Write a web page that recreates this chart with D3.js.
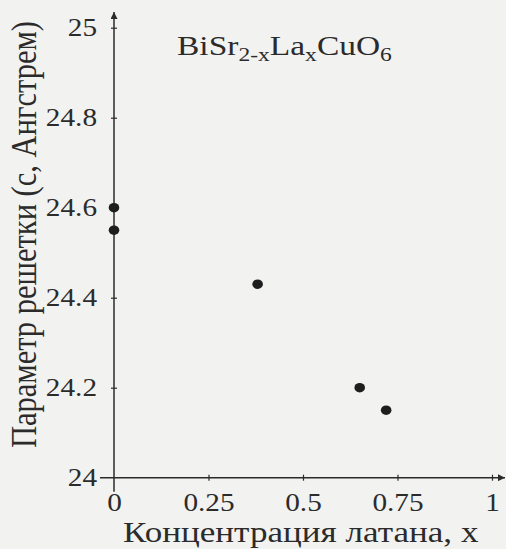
<!DOCTYPE html>
<html>
<head>
<meta charset="utf-8">
<script src="https://cdn.jsdelivr.net/npm/d3@7"></script>
<style>
  body { margin: 0; background: #f2f2f0; }
  svg { display: block; }
  svg text { font-family: "Liberation Serif", serif !important; fill: #2b2b2b; }
</style>
</head>
<body>
<svg id="chart" width="506" height="549"></svg>
<script>
// данные: концентрация лантана x и параметр решетки c
const conc = [0, 0, 0.38, 0.65, 0.72];
const latticeC = [24.6, 24.55, 24.43, 24.2, 24.15];
const xTicks = [0, 0.25, 0.5, 0.75, 1];
const yTicks = [24, 24.2, 24.4, 24.6, 24.8, 25];

const svg = d3.select("#chart");
const ink = "#2b2b2b";
const sx = 1.17; // скан растянут по горизонтали

const x = d3.scaleLinear().domain([0, 1]).range([114, 492]);
const y = d3.scaleLinear().domain([24, 25]).range([477.7, 27.7]);

// оси со стрелками
svg.append("defs").append("marker")
    .attr("id", "arrow")
    .attr("viewBox", "0 0 10 10")
    .attr("refX", 10).attr("refY", 5)
    .attr("markerWidth", 11).attr("markerHeight", 7)
    .attr("markerUnits", "userSpaceOnUse")
    .attr("orient", "auto")
  .append("path")
    .attr("d", "M0,0 L10,5 L0,10 Z")
    .attr("fill", ink);

svg.append("line")
    .attr("x1", x(0) - 14).attr("x2", 505)
    .attr("y1", y(24)).attr("y2", y(24))
    .attr("stroke", ink).attr("stroke-width", 1.5)
    .attr("marker-end", "url(#arrow)");

svg.append("line")
    .attr("x1", x(0)).attr("x2", x(0))
    .attr("y1", y(24) + 14).attr("y2", 12)
    .attr("stroke", ink).attr("stroke-width", 1.5)
    .attr("marker-end", "url(#arrow)");

const xAxis = svg.append("g")
    .attr("transform", `translate(0,${y(24)})`)
    .call(d3.axisBottom(x).tickValues(xTicks).tickFormat(d => String(d)).tickSize(3).tickPadding(13));
xAxis.select(".domain").remove();
xAxis.selectAll(".tick line").attr("y1", -3).attr("stroke", ink).attr("stroke-width", 1.2);
xAxis.selectAll(".tick text")
    .attr("font-size", 25)
    .attr("transform", `scale(${sx},1)`);
xAxis.selectAll(".tick").filter(d => d === 0).select("line").remove();

const yAxis = svg.append("g")
    .attr("transform", `translate(${x(0)},0)`)
    .call(d3.axisLeft(y).tickValues(yTicks).tickFormat(d => String(d)).tickSize(3));
yAxis.select(".domain").remove();
yAxis.selectAll(".tick line").attr("x1", 3).attr("stroke", ink).attr("stroke-width", 1.2);
yAxis.selectAll(".tick text")
    .attr("font-size", 25)
    .attr("x", -17 / sx)
    .attr("transform", `scale(${sx},1)`);
yAxis.selectAll(".tick").filter(d => d === 24).select("line").remove();

// точки
svg.append("g").selectAll("ellipse")
  .data(conc.map((c, i) => ({ c: c, v: latticeC[i] })))
  .join("ellipse")
    .attr("cx", d => x(d.c))
    .attr("cy", d => y(d.v))
    .attr("rx", 5.3)
    .attr("ry", 4.8)
    .attr("fill", "#1e1e1e");

// подписи
svg.append("text")
    .attr("transform", `translate(123,542) scale(${sx * 30 / 29},1)`)
    .attr("font-size", 29)
    .text("Концентрация латана, x");

svg.append("text")
    .attr("transform", `translate(36,448) scale(${sx},1) rotate(-90)`)
    .attr("font-size", 30.5)
    .text("Параметр решетки (с, Ангстрем)");

const title = svg.append("text")
    .attr("transform", "translate(177,55) scale(1.24,1)")
    .attr("font-size", 27);
title.append("tspan").text("BiSr");
title.append("tspan").attr("font-size", 19).attr("dy", 6).text("2-x");
title.append("tspan").attr("dy", -6).text("La");
title.append("tspan").attr("font-size", 19).attr("dy", 6).text("x");
title.append("tspan").attr("dy", -6).text("CuO");
title.append("tspan").attr("font-size", 19).attr("dy", 6).text("6");
</script>
</body>
</html>
